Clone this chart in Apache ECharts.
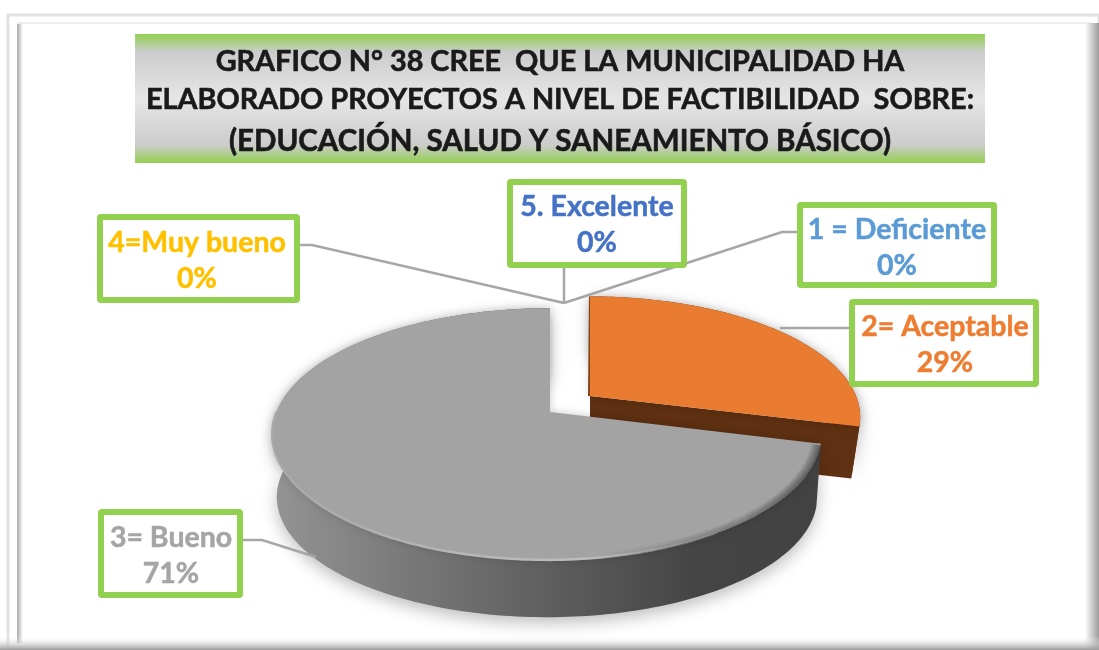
<!DOCTYPE html>
<html>
<head>
<meta charset="utf-8">
<style>html,body{margin:0;padding:0;background:#fff}#c{width:1099px;height:650px}</style>
<script src="https://cdn.jsdelivr.net/npm/echarts@6/dist/echarts.min.js"></script>
</head>
<body>
<div id="c"></div>
<script>
// --- data ---
var categories = ['1 = Deficiente', '2= Aceptable', '3= Bueno', '4=Muy bueno', '5. Excelente'];
var values = [0, 29, 71, 0, 0];
var labelColors = ['#5B9BD5', '#ED7D31', '#A5A5A5', '#FFC000', '#4472C4'];
var titleLines = [
  'GRAFICO N° 38 CREE  QUE LA MUNICIPALIDAD HA',
  'ELABORADO PROYECTOS A NIVEL DE FACTIBILIDAD  SOBRE:',
  '(EDUCACIÓN, SALUD Y SANEAMIENTO BÁSICO)'
];

// --- layout and style ---
var GREEN = '#92D050';
var FONT = 'Lato, "Open Sans", sans-serif';
var PERSPECTIVE = 0.175;
var sliceLayout = {
  1: {ax: 590, ay: 396, off: 0, rx: 266, ry: 117, dy: 53, brx: 258, bry: 113, top: '#E97C30', wall: '#5F3011', side: '#5F3011'},
  2: {ax: 550, ay: 412, off: -3, rx: 270.5, ry: 122, dy: 64, brx: 266, bry: 116.5, top: '#A3A3A3', wall: '#444444', rim: true,
      side: {type: 'linear', x: 0, y: 0, x2: 1, y2: 0, colorStops: [
        {offset: 0, color: '#949494'}, {offset: 0.3, color: '#737373'}, {offset: 0.6, color: '#555555'},
        {offset: 0.78, color: '#444444'}, {offset: 1, color: '#424242'}]}}
};
var calloutLayout = [
  {x: 800, y: 205, w: 194, h: 80, tx: 897, ty: 247.5, leader: [[797, 232], [782, 232], [564, 303]]},
  {x: 852, y: 302, w: 184, h: 82, tx: 945, ty: 344.5, leader: [[849, 328], [780, 328]]},
  {x: 101, y: 512, w: 139, h: 83, tx: 171, ty: 555.5, leader: [[243, 540], [262, 540], [316, 557]]},
  {x: 100, y: 217, w: 197, h: 83, tx: 197, ty: 261, leader: [[300, 245], [312, 245], [564, 303]]},
  {x: 510, y: 182, w: 174, h: 83, tx: 597, ty: 225, leader: [[564, 267], [564, 303]]}
];

var total = values.reduce(function (a, b) { return a + b; }, 0);

function project(s, theta, bottom, inset) {
  var u = Math.sin(theta), v = Math.cos(theta), w = 1 + PERSPECTIVE * v, d = inset || 0;
  var cx = s.ax + s.off * (1 - Math.pow(Math.max(v, 0), 4));
  return bottom
    ? [cx + s.brx * u / w, s.ay + s.dy - s.bry * v / w]
    : [cx + (s.rx - d) * u / w, s.ay - (s.ry - d * 0.5) * v / w];
}
function arc(s, a0, a1, bottom, inset) {
  var n = Math.max(2, Math.ceil((a1 - a0) / 0.02)), pts = [];
  for (var i = 0; i <= n; i++) pts.push(project(s, a0 + (a1 - a0) * i / n, bottom, inset));
  return pts;
}

function renderSlice(params, api) {
  var i = params.dataIndex, val = api.value(0), s = sliceLayout[i];
  if (!val || !s) return {type: 'group', children: []};
  var before = 0;
  for (var k = 0; k < i; k++) before += values[k];
  var a0 = before / total * 2 * Math.PI, a1 = (before + val) / total * 2 * Math.PI;
  var topArc = arc(s, a0, a1, false), botArc = arc(s, a0, a1, true);
  var apex = [s.ax, s.ay], apexB = [s.ax, s.ay + s.dy];
  var endT = project(s, a1, false), endB = project(s, a1, true);
  var children = [];
  children.push({type: 'polygon', shape: {points: topArc.concat(botArc.slice().reverse())},
    style: {fill: s.side, shadowBlur: 16, shadowColor: 'rgba(0,0,0,0.25)', shadowOffsetY: 6}});
  if (a1 < Math.PI) {
    children.push({type: 'polygon', shape: {points: [apex, endT, endB, apexB]}, style: {fill: s.wall}});
    children.push({type: 'polyline', shape: {points: [[s.ax - 1, s.ay], project(s, a0, false)]},
      style: {stroke: '#8A4A1C', lineWidth: 2, fill: 'none'}});
  }
  children.push({type: 'polygon', shape: {points: [apex].concat(topArc)},
    style: {fill: s.top, shadowBlur: 8, shadowColor: 'rgba(0,0,0,0.2)'}});
  if (s.rim) {
    // soft dark bevel on the right, fading inward
    for (var j = 0; j < 9; j++) {
      var alpha = 0.62 * (1 - j / 9);
      children.push({type: 'polyline', shape: {points: arc(s, a0 + 0.012, Math.PI * 1.02, false, j * 1.1)},
        style: {fill: 'none', lineWidth: 1.6, stroke: {type: 'linear', x: 0, y: 0, x2: 1, y2: 0, colorStops: [
          {offset: 0, color: 'rgba(60,60,60,0)'}, {offset: 0.25, color: 'rgba(60,60,60,0)'},
          {offset: 0.75, color: 'rgba(60,60,60,' + alpha * 0.45 + ')'},
          {offset: 1, color: 'rgba(60,60,60,' + alpha + ')'}]}}});
    }
    // thin highlight along the front-left edge
    children.push({type: 'polyline', shape: {points: arc(s, Math.PI * 0.82, Math.PI * 1.5, false)},
      style: {fill: 'none', lineWidth: 2.5, stroke: {type: 'linear', x: 0, y: 0, x2: 1, y2: 0, colorStops: [
        {offset: 0, color: '#A8A8A8'}, {offset: 0.35, color: '#B4B4B4'}, {offset: 0.7, color: '#BDBDBD'},
        {offset: 1, color: 'rgba(163,163,163,0.2)'}]}}});
  }
  return {type: 'group', children: children};
}

function renderCallout(params, api) {
  var i = params.dataIndex, c = calloutLayout[i];
  var pct = Math.round(api.value(0) / total * 100);
  return {type: 'group', children: [
    {type: 'polyline', shape: {points: c.leader}, style: {fill: 'none', stroke: '#A6A6A6', lineWidth: 2.5}},
    {type: 'rect', shape: {x: c.x, y: c.y, width: c.w, height: c.h, r: 1},
      style: {fill: '#fff', stroke: GREEN, lineWidth: 6}},
    {type: 'text', x: c.tx, y: c.ty, style: {
      text: categories[i] + '\n' + pct + '%', fill: labelColors[i],
      stroke: labelColors[i], lineWidth: 0.5,
      font: 'bold 28.5px ' + FONT, lineHeight: 36, align: 'center', verticalAlign: 'middle'}}
  ]};
}

function grad(x, y, x2, y2, stops) {
  return {type: 'linear', x: x, y: y, x2: x2, y2: y2, colorStops: stops};
}
function titleStyle(size, lh) {
  return {fontFamily: FONT, fontWeight: 'bold', fontSize: size, lineHeight: lh, color: '#1a1a1a',
    textBorderColor: '#1a1a1a', textBorderWidth: 0.6};
}

var chart = echarts.init(document.getElementById('c'), null, {renderer: 'canvas'});
chart.setOption({
  animation: false,
  backgroundColor: '#fff',
  title: {
    text: '{a|' + titleLines[0] + '}\n{b|' + titleLines[1] + '}\n{c|' + titleLines[2] + '}',
    left: 555, top: 38, textAlign: 'center',
    textStyle: {rich: {a: titleStyle(28.8, 38), b: titleStyle(28.8, 38), c: titleStyle(29.5, 44)}}
  },
  graphic: {elements: [
    {type: 'rect', z: 0, shape: {x: 8, y: 15, width: 1091, height: 635}, style: {fill: 'none', stroke: '#E2E2E2', lineWidth: 3}},
    {type: 'rect', z: 0, shape: {x: 17, y: 23, width: 6, height: 620},
      style: {fill: grad(0, 0, 1, 0, [{offset: 0, color: '#A8A8A8'}, {offset: 1, color: '#FFFFFF'}])}},
    {type: 'rect', z: 0, shape: {x: 17, y: 22, width: 1075, height: 2}, style: {fill: '#EEEEEE'}},
    {type: 'rect', z: 0, shape: {x: 1085, y: 23, width: 14, height: 627},
      style: {fill: grad(0, 0, 1, 0, [{offset: 0, color: '#FFFFFF'}, {offset: 1, color: '#9A9A9A'}])}},
    {type: 'rect', z: 1, shape: {x: 0, y: 636, width: 1099, height: 14},
      style: {fill: grad(0, 0, 0, 1, [{offset: 0, color: 'rgba(255,255,255,0)'}, {offset: 1, color: '#9A9A9A'}])}},
    {type: 'rect', z: 1, shape: {x: 135, y: 34, width: 850, height: 129},
      style: {fill: grad(0, 0, 0, 1, [
        {offset: 0, color: '#92D050'}, {offset: 0.14, color: '#CCCCCC'},
        {offset: 0.5, color: '#E6E6E6'}, {offset: 0.86, color: '#CCCCCC'},
        {offset: 1, color: '#92D050'}])}}
  ]},
  series: [
    {type: 'custom', name: 'pie', coordinateSystem: 'none', z: 2, renderItem: renderSlice,
      data: values.map(function (v, i) { return {name: categories[i], value: [v]}; })},
    {type: 'custom', name: 'callouts', coordinateSystem: 'none', z: 3, renderItem: renderCallout,
      data: values.map(function (v, i) { return {name: categories[i], value: [v]}; })}
  ]
});
</script>
</body>
</html>
